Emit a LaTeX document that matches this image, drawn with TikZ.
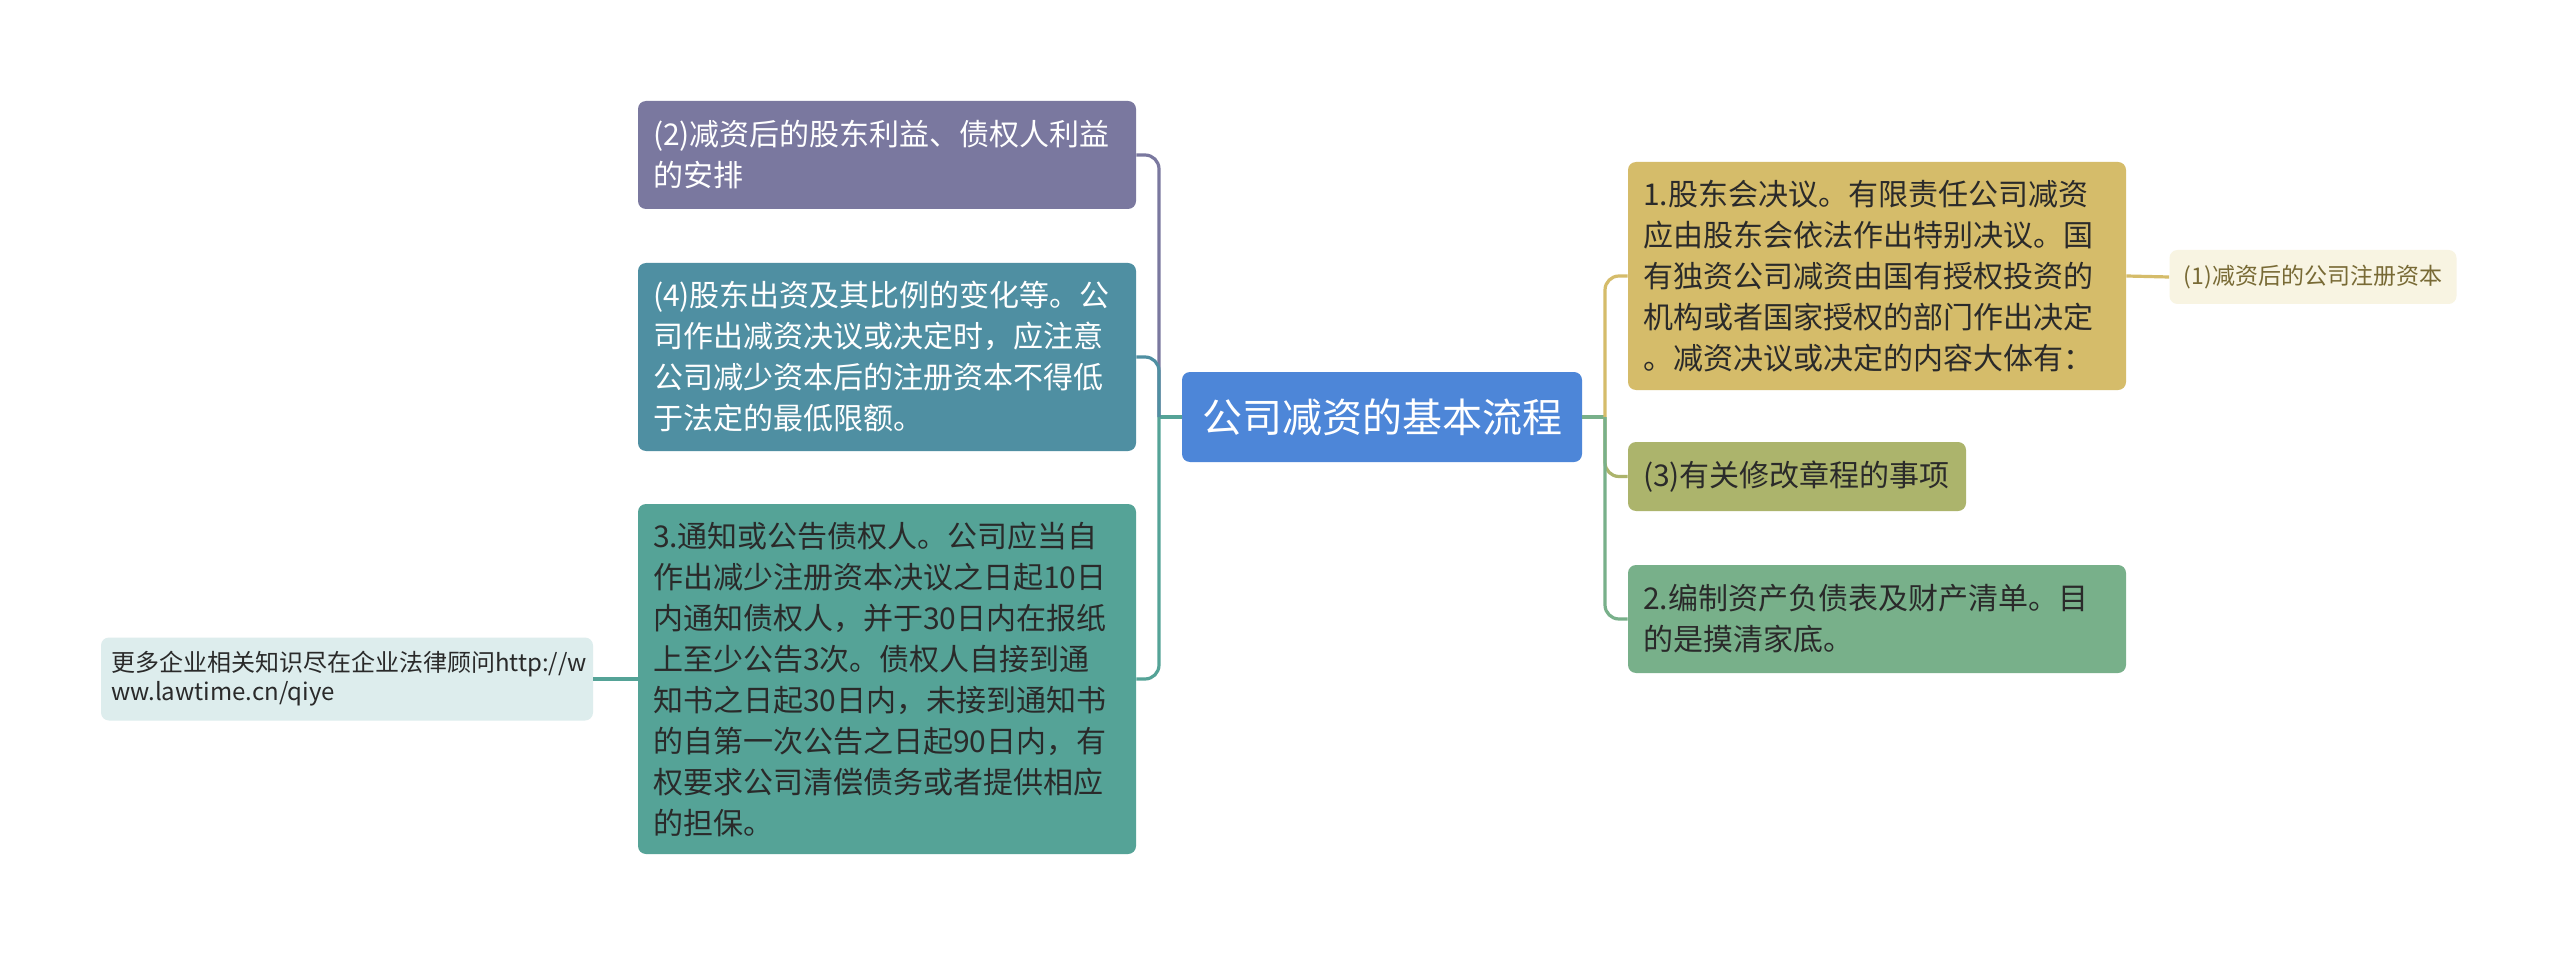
\documentclass[tikz,border=0pt]{standalone}
\usepackage{fontspec}
\setmainfont{Noto Sans CJK SC}
\definecolor{cPurple}{HTML}{7A789F}
\definecolor{cBlueTeal}{HTML}{4F8FA2}
\definecolor{cTeal}{HTML}{55A397}
\definecolor{cBlue}{HTML}{4D86D8}
\definecolor{cGold}{HTML}{D5BC6A}
\definecolor{cCream}{HTML}{F8F4E2}
\definecolor{cCreamText}{HTML}{786A35}
\definecolor{cOlive}{HTML}{ACB46C}
\definecolor{cGreen}{HTML}{78B08A}
\definecolor{cLight}{HTML}{DDEDED}
\definecolor{cDark}{HTML}{2A2A2A}
\begin{document}
\begin{tikzpicture}[x=0.5pt,y=-0.5pt,
  box/.style={rounded corners=4pt, inner sep=0pt, align=left, anchor=center,
    font=\fontsize{15}{20.5}\selectfont},
  conn/.style={line width=1.6pt, rounded corners=7pt},
]
\useasboundingbox (0,0) rectangle (2560,957);
\fill[white] (0,0) rectangle (2560,957);

\node[box, fill=cPurple, text=white, minimum width=249pt, minimum height=54pt, text width=234pt] (n2) at (887,155)
  {(2)减资后的股东利益、债权人利益\\的安排};
\node[box, fill=cBlueTeal, text=white, minimum width=249pt, minimum height=94pt, text width=234pt] (n4) at (887,357)
  {(4)股东出资及其比例的变化等。公\\司作出减资决议或决定时，应注意\\公司减少资本后的注册资本不得低\\于法定的最低限额。};
\node[box, fill=cTeal, text=cDark, minimum width=249pt, minimum height=175pt, text width=234pt] (n3) at (887,679)
  {3.通知或公告债权人。公司应当自\\作出减少注册资本决议之日起10日\\内通知债权人，并于30日内在报纸\\上至少公告3次。债权人自接到通\\知书之日起30日内，未接到通知书\\的自第一次公告之日起90日内，有\\权要求公司清偿债务或者提供相应\\的担保。};
\node[box, fill=cBlue, text=white, align=center, minimum width=200pt, minimum height=45pt,
  font=\fontsize{20}{24}\selectfont] (c) at (1382,417) {公司减资的基本流程};
\node[box, fill=cGold, text=cDark, minimum width=249pt, minimum height=114pt, text width=234pt] (b1) at (1877,276)
  {1.股东会决议。有限责任公司减资\\应由股东会依法作出特别决议。国\\有独资公司减资由国有授权投资的\\机构或者国家授权的部门作出决定\\。减资决议或决定的内容大体有：};
\node[box, fill=cCream, text=cCreamText, align=center, minimum width=143.5pt, minimum height=27pt,
  font=\fontsize{11.5}{14}\selectfont] (s1) at (2313,277) {(1)减资后的公司注册资本};
\node[box, fill=cOlive, text=cDark, minimum width=169pt, minimum height=34.5pt, text width=154pt] (b3) at (1797,476.5)
  {(3)有关修改章程的事项};
\node[box, fill=cGreen, text=cDark, minimum width=249pt, minimum height=54pt, text width=234pt] (b2) at (1877,619)
  {2.编制资产负债表及财产清单。目\\的是摸清家底。};
\node[box, fill=cLight, text=cDark, minimum width=246pt, minimum height=41.5pt, text width=236pt,
  font=\fontsize{12}{14.5}\selectfont] (L) at (347,679)
  {更多企业相关知识尽在企业法律顾问http://w\\ww.lawtime.cn/qiye};

\coordinate (lt) at (1159,417);
\coordinate (rt) at (1605,417);
\draw[conn, cTeal] (c.west) -- (lt);
\draw[conn, cPurple] (lt) |- (n2.east);
\draw[conn, cBlueTeal] (lt) |- (n4.east);
\draw[conn, cTeal] (lt) |- (n3.east);
\draw[conn, cTeal] (n3.west) -- (L.east);
\draw[conn, cGreen] (c.east) -- (rt);
\draw[conn, cGold] (rt) |- (b1.west);
\draw[conn, cOlive] (rt) |- (b3.west);
\draw[conn, cGreen] (rt) |- (b2.west);
\draw[conn, cGold] (b1.east) -- (s1.west);
\end{tikzpicture}
\end{document}
